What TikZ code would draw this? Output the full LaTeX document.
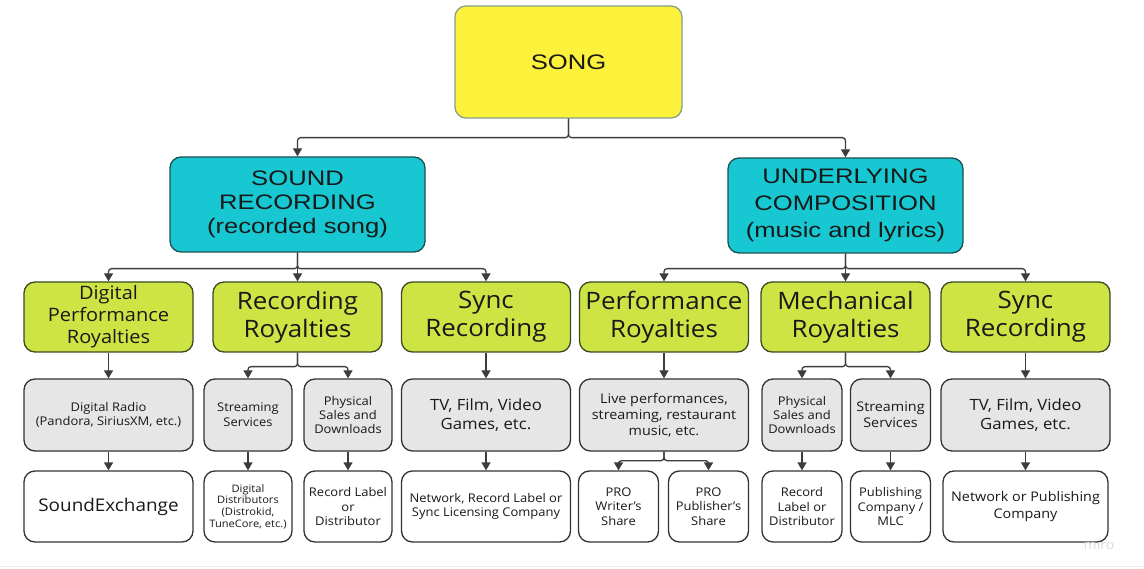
\documentclass[tikz,border=0pt]{standalone}
\usepackage{fontspec}
\setmainfont{Open Sans}[FakeStretch=1.08]
\newfontfamily\headfont{Liberation Sans}[FakeStretch=1.22]
\usetikzlibrary{arrows.meta}

\definecolor{songyellow}{HTML}{FCF23C}
\definecolor{songedge}{HTML}{86A08A}
\definecolor{rightscyan}{HTML}{17C8D2}
\definecolor{rightsedge}{HTML}{1F4F55}
\definecolor{royaltygreen}{HTML}{CEE444}
\definecolor{royaltyedge}{HTML}{3C4A22}
\definecolor{sourcegray}{HTML}{E6E6E6}
\definecolor{boxedge}{HTML}{333333}
\definecolor{linkgray}{HTML}{3C3C3C}

\newcommand\boxfont[2]{\fontsize{#1}{#2}\selectfont}

\begin{document}
\begin{tikzpicture}
  [x=1pt,y=-1pt,
   box/.style={draw=boxedge,line width=1.3pt,rounded corners=11pt,align=center,
     inner sep=0pt,text=black!90},
   songbox/.style={box,fill=songyellow,draw=songedge,minimum width=227pt,
     minimum height=112pt,font=\headfont\boxfont{21}{25}},
   rightsbox/.style={box,fill=rightscyan,draw=rightsedge,minimum height=95pt},
   royaltybox/.style={box,fill=royaltygreen,draw=royaltyedge,minimum height=70pt,
     minimum width=169pt,font=\boxfont{24}{28}},
   sourcebox/.style={box,fill=sourcegray,minimum height=72pt,minimum width=169pt},
   payeebox/.style={box,fill=white,minimum height=71pt,minimum width=169pt},
   slim/.style={minimum width=88pt},
   slimmer/.style={minimum width=80pt},
   link/.style={draw=linkgray,line width=1.3pt,rounded corners=3pt,
     -{Triangle[length=8pt,width=9pt]}}]

  \useasboundingbox[fill=white] (0,0) rectangle (1144,569);
  \draw[black!7,line width=1pt] (0,566) -- (1144,566);

  % top
  \node[songbox] (song) at (568.5,62) {SONG};
  \node[rightsbox,minimum width=255pt,font=\headfont\boxfont{21}{24}] (rec) at (297.5,204.5)
    {SOUND\\RECORDING\\(recorded song)};
  \node[rightsbox,minimum width=235pt,font=\headfont\boxfont{21}{27}] (comp) at (845.5,205.5)
    {UNDERLYING\\COMPOSITION\\(music and lyrics)};

  % royalties
  \node[royaltybox,font=\boxfont{18.5}{22}] (dpr) at (108.5,317) {Digital\\Performance\\Royalties};
  \node[royaltybox] (rr)    at (297.5,317)  {Recording\\Royalties};
  \node[royaltybox] (syncA) at (486,317)    {Sync\\Recording};
  \node[royaltybox] (pr)    at (664,317)    {Performance\\Royalties};
  \node[royaltybox] (mr)    at (845.5,317)  {Mechanical\\Royalties};
  \node[royaltybox] (syncB) at (1025.5,317) {Sync\\Recording};

  % sources
  \node[sourcebox,font=\boxfont{12}{14.7}] (radio) at (108.5,415)
    {Digital Radio\\(Pandora, SiriusXM, etc.)};
  \node[sourcebox,slim,font=\boxfont{12}{14.7}] (streamA) at (248,415) {Streaming\\Services};
  \node[sourcebox,slim,font=\boxfont{12}{14.3}] (physA) at (348,415) {Physical\\Sales and\\Downloads};
  \node[sourcebox,font=\boxfont{15.5}{19}] (tvA) at (486,415) {TV, Film, Video\\Games, etc.};
  \node[sourcebox,font=\boxfont{13.3}{16}] (live) at (664,415)
    {Live performances,\\streaming, restaurant\\music, etc.};
  \node[sourcebox,slimmer,font=\boxfont{12}{14.3}] (physB) at (802,415) {Physical\\Sales and\\Downloads};
  \node[sourcebox,slimmer,font=\boxfont{13.3}{16}] (streamB) at (890.5,415) {Streaming\\Services};
  \node[sourcebox,font=\boxfont{15.5}{19}] (tvB) at (1025.5,415) {TV, Film, Video\\Games, etc.};

  % payees
  \node[payeebox,font=\boxfont{17.5}{20}] (sx) at (108.5,506.5) {SoundExchange};
  \node[payeebox,slim,font=\boxfont{10.3}{11.7}] (dist) at (248,506.5)
    {Digital\\Distributors\\(Distrokid,\\TuneCore, etc.)};
  \node[payeebox,slim,font=\boxfont{12}{14.3}] (labelA) at (348,506.5) {Record Label\\or\\Distributor};
  \node[payeebox,font=\boxfont{12}{14}] (netA) at (486,506.5)
    {Network, Record Label or\\Sync Licensing Company};
  \node[payeebox,slimmer,font=\boxfont{12}{14.7}] (writer) at (618.5,506.5) {PRO\\Writer's\\Share};
  \node[payeebox,slimmer,font=\boxfont{12}{14.7}] (publisher) at (708.5,506.5) {PRO\\Publisher's\\Share};
  \node[payeebox,slimmer,font=\boxfont{12}{14.5}] (labelB) at (802,506.5) {Record\\Label or\\Distributor};
  \node[payeebox,slimmer,font=\boxfont{12}{14.5}] (pubco) at (890.5,506.5) {Publishing\\Company /\\MLC};
  \node[payeebox,minimum width=165pt,font=\boxfont{13.3}{16.3}] (netB) at (1025.5,506.5)
    {Network or Publishing\\Company};

  \node[text=black!15,font=\boxfont{13}{13}] (miro) at (1099,545) {miro};

  \foreach \from/\to/\drop in {song/rec/19,song/comp/19,rec/dpr/16,rec/syncA/16,
      comp/pr/15,comp/syncB/15,rr/streamA/14,rr/physA/14,mr/physB/14,mr/streamB/14,
      live/writer/9,live/publisher/9}
    \draw[link] (\from.south) -- ++(0,\drop) -| (\to.north);

  \foreach \from/\to in {rec/rr,comp/mr,dpr/radio,syncA/tvA,pr/live,syncB/tvB,
      radio/sx,streamA/dist,physA/labelA,tvA/netA,physB/labelB,streamB/pubco,tvB/netB}
    \draw[link] (\from) -- (\to);

\end{tikzpicture}
\end{document}
